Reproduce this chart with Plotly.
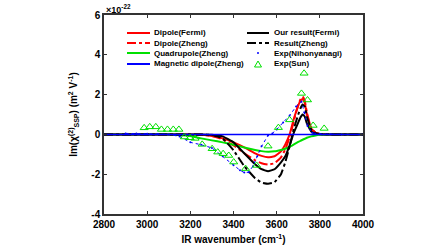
import plotly.graph_objects as go

# ---- data (values in units of 1e-22 m^2 V^-1) ----
wn = [2800, 3000, 3100, 3200, 3250, 3300, 3350, 3400, 3450, 3500, 3530, 3560, 3590,
      3620, 3640, 3660, 3680, 3700, 3710, 3720, 3730, 3740, 3760, 3780, 3800, 3850, 3900, 4000]
dipole_fermi = [0, 0, 0, 0, -0.02, -0.08, -0.2, -0.4, -0.65, -0.95, -1.08, -1.15, -1.1,
                -0.85, -0.5, 0.0, 0.8, 1.45, 1.7, 1.78, 1.6, 1.0, 0.3, 0.08, 0.02, 0, 0, 0]
dipole_zheng = [0, 0, 0, 0, -0.02, -0.08, -0.25, -0.55, -0.95, -1.3, -1.45, -1.52, -1.45,
                -1.15, -0.75, -0.15, 0.7, 1.5, 1.75, 1.9, 1.7, 1.1, 0.3, 0.08, 0.02, 0, 0, 0]
quadrupole_zheng = [0, 0, 0, -0.08, -0.2, -0.3, -0.4, -0.52, -0.66, -0.78, -0.84, -0.87, -0.85,
                    -0.78, -0.72, -0.62, -0.5, -0.38, -0.32, -0.27, -0.22, -0.17, -0.1, -0.05, -0.02, 0, 0, 0]
magnetic_zheng = [0] * len(wn)
our_fermi = [0, 0, 0, 0, 0, -0.02, -0.1, -0.4, -0.95, -1.5, -1.75, -1.85, -1.75,
             -1.4, -1.1, -0.55, 0.1, 0.6, 0.85, 1.0, 0.9, 0.55, 0.15, 0.04, 0.01, 0, 0, 0]
result_zheng = [0, 0, 0, 0, 0, -0.03, -0.2, -0.8, -1.6, -2.2, -2.42, -2.48, -2.4,
                -2.0, -1.4, -0.6, 0.3, 1.0, 1.3, 1.5, 1.4, 0.9, 0.25, 0.06, 0.02, 0, 0, 0]

nih_wn = [2900, 2950, 3000, 3050, 3100, 3150, 3200, 3250, 3300, 3350, 3400, 3430, 3450, 3470,
          3490, 3510, 3530, 3560, 3580, 3600, 3630, 3660, 3690, 3715, 3728, 3743, 3765, 3800, 3850, 3900]
nih_val = [0.05, 0.05, 0.03, 0.02, 0.0, -0.1, -0.4, -0.52, -0.68, -1.1, -1.55, -1.8, -1.92, -1.9,
           -1.6, -1.1, -0.6, -0.05, 0.05, 0.25, 0.6, 0.95, 1.4, 1.65, 1.1, 0.42, 0.08, 0.02, 0.01, 0.0]

sun_wn = [2986, 3012, 3040, 3066, 3094, 3121, 3147, 3172, 3199, 3222, 3255, 3301, 3327, 3352,
          3378, 3401, 3456, 3507, 3560, 3608, 3660, 3715, 3727, 3743, 3769, 3820]
sun_val = [0.33, 0.38, 0.38, 0.25, 0.25, 0.25, 0.25, -0.13, -0.17, -0.2, -0.5, -0.72, -0.89, -0.97,
           -1.06, -1.39, -1.72, -1.56, -0.59, 0.34, 0.73, 2.06, 3.07, 1.73, 0.45, 0.3]

x_ticks = [2800, 3000, 3200, 3400, 3600, 3800, 4000]
y_ticks = [-4, -2, 0, 2, 4, 6]

RED, GREEN, BLUE, BLACK = "#ff0000", "#00e000", "#0000ff", "#000000"
FONT = "Liberation Sans, Arial, sans-serif"

fig = go.Figure()
def line(x, y, name, color, dash="solid", width=2):
    fig.add_trace(go.Scatter(x=x, y=y, name=name, mode="lines",
                             line=dict(color=color, dash=dash, width=width, shape="spline", smoothing=0.3)))

line(wn, dipole_fermi, "Dipole(Fermi)", RED)
line(wn, dipole_zheng, "Dipole(Zheng)", RED, "dashdot")
line(wn, quadrupole_zheng, "Quadrupole(Zheng)", GREEN)
line(wn, our_fermi, "Our result(Fermi)", BLACK)
line(wn, result_zheng, "Result(Zheng)", BLACK, "dashdot")
line(wn, magnetic_zheng, "Magnetic dipole(Zheng)", BLUE, width=1.5)
fig.add_trace(go.Scatter(x=nih_wn, y=nih_val, name="Exp(Nihonyanagi)", mode="lines+markers",
                         line=dict(color=BLUE, dash="dot", width=1),
                         marker=dict(color=BLUE, size=2)))
fig.add_trace(go.Scatter(x=sun_wn, y=sun_val, name="Exp(Sun)", mode="markers",
                         marker=dict(symbol="triangle-up-open", color=GREEN, size=7, line=dict(width=1, color=GREEN))))

# ---- manual legend (two columns) ----
L, R, T, B = 104, 363, 15, 214
W, H = R - L, B - T
def px(xp): return (xp - L) / W
def py(yp): return (B - yp) / H
rows = [33, 43, 53, 64]
left_items = [("Dipole(Fermi)", RED, "solid"), ("Dipole(Zheng)", RED, "dashdot"),
              ("Quadrupole(Zheng)", GREEN, "solid"), ("Magnetic dipole(Zheng)", BLUE, "solid")]
right_items = [("Our result(Fermi)", BLACK, "solid"), ("Result(Zheng)", BLACK, "dashdot"),
               ("Exp(Nihonyanagi)", BLUE, "dot"), ("Exp(Sun)", GREEN, "tri")]
shapes, annos = [], []
for (txt, col, kind), r in zip(left_items, rows):
    shapes.append(dict(type="line", xref="paper", yref="paper", x0=px(127), x1=px(150),
                       y0=py(r), y1=py(r), line=dict(color=col, width=2, dash=kind)))
    annos.append(dict(text=txt, xref="paper", yref="paper", x=px(152), y=py(r), xanchor="left",
                      yanchor="middle", showarrow=False, font=dict(size=8, color="black", family=FONT, weight="bold")))
for (txt, col, kind), r in zip(right_items, rows):
    if kind == "dot":
        shapes.append(dict(type="circle", xref="paper", yref="paper", x0=px(257), x1=px(259),
                           y0=py(r + 1), y1=py(r - 1), fillcolor=col, line=dict(width=0)))
    elif kind == "tri":
        path = "M {} {} L {} {} L {} {} Z".format(px(254.5), py(r + 3), px(261.5), py(r + 3), px(258), py(r - 3))
        shapes.append(dict(type="path", xref="paper", yref="paper", path=path, line=dict(color=col, width=1)))
    else:
        shapes.append(dict(type="line", xref="paper", yref="paper", x0=px(247), x1=px(269),
                           y0=py(r), y1=py(r), line=dict(color=col, width=2, dash=kind)))
    annos.append(dict(text=txt, xref="paper", yref="paper", x=px(272), y=py(r), xanchor="left",
                      yanchor="middle", showarrow=False, font=dict(size=8, color="black", family=FONT, weight="bold")))

annos.append(dict(text="×10<sup>-22</sup>", xref="paper", yref="paper", x=0, y=1, xanchor="left",
                  yanchor="bottom", showarrow=False, yshift=-2,
                  font=dict(size=9, color="black", family=FONT, weight="bold")))

axis_common = dict(showline=True, linecolor="#333333", linewidth=1.5, mirror="ticks", ticks="inside",
                   ticklen=3, tickcolor="#333333", showgrid=False, zeroline=False, automargin=False,
                   tickfont=dict(size=10, color="black", family=FONT, weight="bold"))
fig.update_layout(
    width=448, height=252, margin=dict(l=L, r=448 - R, t=T, b=252 - B, autoexpand=False),
    paper_bgcolor="white", plot_bgcolor="white", showlegend=False,
    font=dict(family=FONT, color="black"),
    xaxis=dict(range=[2800, 4000], tickvals=x_ticks, ticktext=[str(v) for v in x_ticks],
               title=dict(text="IR wavenumber (cm<sup>-1</sup>)", standoff=7,
                          font=dict(size=10, color="black", family=FONT, weight="bold")), **axis_common),
    yaxis=dict(range=[-4, 6], tickvals=y_ticks, ticktext=[str(v) for v in y_ticks],
               title=dict(text="Im(χ<sup>(2)</sup><sub>SSP</sub>) (m<sup>2</sup> V<sup>-1</sup>)", standoff=12,
                          font=dict(size=10, color="black", family=FONT, weight="bold")), **axis_common),
    shapes=shapes, annotations=annos,
)
fig.write_html("out.html", config={"displayModeBar": False},
               post_script="document.body.style.margin='0';")
